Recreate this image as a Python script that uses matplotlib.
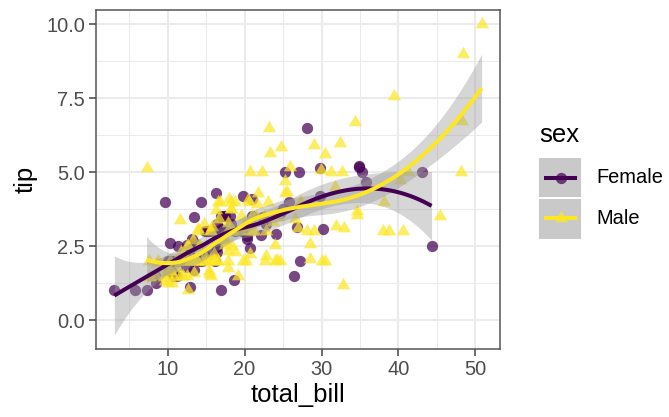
import numpy as np
import matplotlib
matplotlib.use("Agg")
import matplotlib.pyplot as plt
from matplotlib.path import Path
from matplotlib.patches import Rectangle
from matplotlib.lines import Line2D

plt.rcParams["font.family"] = ["Liberation Sans", "DejaVu Sans"]

# ---- tips data, split by sex ----
female_total_bill = [16.99, 24.59, 35.26, 14.83, 10.33, 16.97, 20.29, 15.77, 19.65, 15.06,
                     20.69, 16.93, 10.29, 34.81, 26.41, 16.45, 3.07, 17.07, 26.86, 25.28,
                     14.73, 10.07, 34.83, 5.75, 16.32, 22.75, 11.35, 15.38, 44.30, 22.42,
                     20.92, 14.31, 7.25, 25.71, 17.31, 10.65, 12.43, 24.08, 13.42, 12.48,
                     29.80, 14.52, 11.38, 20.27, 11.17, 12.26, 18.26, 8.51, 10.33, 14.15,
                     13.16, 17.47, 27.05, 16.43, 8.35, 18.64, 29.85, 25.00, 13.39, 16.21,
                     17.51, 10.59, 10.63, 9.60, 20.90, 18.15, 19.81, 43.11, 13.00, 12.74,
                     13.00, 16.40, 16.47, 12.76, 13.27, 28.17, 12.90, 30.14, 13.42, 15.98,
                     16.27, 10.09, 22.12, 35.83, 27.18, 18.78]
female_tip = [1.01, 3.61, 5.00, 3.02, 1.67, 3.50, 2.75, 2.23, 3.00, 3.00,
              2.45, 3.07, 2.60, 5.20, 1.50, 2.47, 1.00, 3.00, 3.14, 5.00,
              2.20, 1.83, 5.17, 1.00, 4.30, 3.25, 2.50, 3.00, 2.50, 3.48,
              4.08, 4.00, 1.00, 4.00, 3.50, 1.50, 1.80, 2.92, 1.68, 2.52,
              4.20, 2.00, 2.00, 2.83, 1.50, 2.00, 3.25, 1.25, 2.00, 2.00,
              2.75, 3.50, 5.00, 2.30, 1.50, 1.36, 5.14, 3.75, 2.61, 2.00,
              3.00, 1.61, 2.00, 4.00, 3.50, 3.50, 4.19, 5.00, 2.00, 2.01,
              2.00, 2.50, 3.23, 2.23, 2.50, 6.50, 1.10, 3.09, 3.48, 3.00,
              2.50, 2.00, 2.88, 4.67, 2.00, 3.00]

male_total_bill = [10.34, 21.01, 23.68, 25.29, 8.77, 26.88, 15.04, 14.78, 10.27, 15.42,
                   18.43, 21.58, 16.29, 20.65, 17.92, 39.42, 19.82, 17.81, 13.37, 12.69,
                   21.70, 9.55, 18.35, 17.78, 24.06, 16.31, 18.69, 31.27, 16.04, 17.46,
                   13.94, 9.68, 30.40, 18.29, 22.23, 32.40, 28.55, 18.04, 12.54, 9.94,
                   25.56, 19.49, 38.01, 11.24, 48.27, 20.29, 13.81, 11.02, 18.29, 17.59,
                   20.08, 20.23, 15.01, 12.02, 10.51, 17.92, 27.20, 22.76, 17.29, 19.44,
                   16.66, 32.68, 15.98, 13.03, 18.28, 24.71, 21.16, 28.97, 22.49, 40.17,
                   27.28, 12.03, 21.01, 12.46, 15.36, 20.49, 25.21, 18.24, 14.00, 38.07,
                   23.95, 29.93, 11.69, 14.26, 15.95, 8.52, 22.82, 19.08, 16.00, 34.30,
                   41.19, 9.78, 7.51, 14.07, 13.13, 17.26, 24.55, 19.77, 48.17, 16.49,
                   21.50, 12.66, 13.81, 24.52, 20.76, 31.71, 50.81, 15.81, 7.25, 31.85,
                   16.82, 32.90, 17.89, 14.48, 34.63, 34.65, 23.33, 45.35, 23.17, 40.55,
                   20.69, 30.46, 23.10, 15.69, 28.44, 15.48, 16.58, 7.56, 10.34, 13.51,
                   18.71, 20.53, 26.59, 38.73, 24.27, 30.06, 25.89, 48.33, 28.15, 11.59,
                   7.74, 12.16, 8.58, 13.42, 20.45, 13.28, 24.01, 15.69, 11.61, 10.77,
                   15.53, 10.07, 12.60, 32.83, 29.03, 22.67, 17.82]
male_tip = [1.66, 3.50, 3.31, 4.71, 2.00, 3.12, 1.96, 3.23, 1.71, 1.57,
            3.00, 3.92, 3.71, 3.35, 4.08, 7.58, 3.18, 2.34, 2.00, 2.00,
            4.30, 1.45, 2.50, 3.27, 3.60, 2.00, 2.31, 5.00, 2.24, 2.54,
            3.06, 1.32, 5.60, 3.00, 5.00, 6.00, 2.05, 3.00, 2.50, 1.56,
            4.34, 3.51, 3.00, 1.76, 6.73, 3.21, 2.00, 1.98, 3.76, 2.64,
            3.15, 2.01, 2.09, 1.97, 1.25, 3.08, 4.00, 3.00, 2.71, 3.00,
            3.40, 5.00, 2.03, 2.00, 4.00, 5.85, 3.00, 3.00, 3.50, 4.73,
            4.00, 1.50, 3.00, 1.50, 1.64, 4.06, 4.29, 3.76, 3.00, 4.00,
            2.55, 5.07, 2.31, 2.50, 2.00, 1.48, 2.18, 1.50, 2.00, 6.70,
            5.00, 1.73, 2.00, 2.50, 2.00, 2.74, 2.00, 2.00, 5.00, 2.00,
            3.50, 2.50, 2.00, 3.48, 2.24, 4.50, 10.00, 3.16, 5.15, 3.18,
            4.00, 3.11, 2.00, 2.00, 3.55, 3.68, 5.65, 3.50, 6.50, 3.00,
            5.00, 2.00, 4.00, 1.50, 2.56, 2.02, 4.00, 1.44, 2.00, 2.00,
            4.00, 4.00, 3.41, 3.00, 2.03, 2.00, 5.16, 9.00, 3.00, 1.50,
            1.44, 2.20, 1.92, 1.58, 3.00, 2.72, 2.00, 3.00, 3.39, 1.47,
            3.00, 1.25, 1.00, 1.17, 5.92, 2.00, 1.75]

groups = ["Female", "Male"]
colors = {"Female": "#440154", "Male": "#FDE725"}
x_ticks = [10, 20, 30, 40, 50]
y_ticks = [0.0, 2.5, 5.0, 7.5, 10.0]


def loess_band(x, y, x_eval, span=0.75, cell=0.2, level=0.95):
    """Local quadratic regression (tricube weights), evaluated on a k-d vertex
    grid and blended with cubic Hermite interpolation; returns fit and CI."""
    x = np.asarray(x, float)
    y = np.asarray(y, float)
    n = len(x)
    q = int(np.floor(n * span + 1e-5))

    def local_rows(x0):
        d = np.abs(x - x0)
        h = np.sort(d)[q - 1]
        u = np.clip(d / h, 0, 1)
        w = (1 - u ** 3) ** 3
        X = np.column_stack([np.ones(n), x - x0, (x - x0) ** 2])
        XtW = X.T * w
        B = np.linalg.solve(XtW @ X, XtW)
        return B[0], B[1]

    # cell vertices
    xs = np.sort(x)
    mu = 0.005 * max(xs[-1] - xs[0], 1e-10)
    lo_v, hi_v = xs[0] - mu, xs[-1] + mu
    fc = int(np.floor(n * span * cell))
    verts = {lo_v, hi_v}
    stack = [(0, n - 1, lo_v, hi_v)]
    while stack:
        l, u, a, b = stack.pop()
        if u - l + 1 <= fc:
            continue
        m = (l + u) // 2
        off = 0
        while l <= m + off < u:
            if xs[m + off] == xs[m + off + 1]:
                off = -off
                if off >= 0:
                    off += 1
            else:
                m = m + off
                break
        xi = xs[m]
        if xi == a or xi == b:
            continue
        verts.add(xi)
        stack.append((l, m, a, xi))
        stack.append((m + 1, u, xi, b))
    verts = np.array(sorted(verts))
    vrows = [local_rows(v) for v in verts]

    def interp_row(x0):
        i = int(np.clip(np.searchsorted(verts, x0) - 1, 0, len(verts) - 2))
        v0, v1 = verts[i], verts[i + 1]
        h = v1 - v0
        t = (x0 - v0) / h
        r0, s0 = vrows[i]
        r1, s1 = vrows[i + 1]
        return ((1 - t) ** 2 * (1 + 2 * t) * r0 + t ** 2 * (3 - 2 * t) * r1
                + h * (t * (1 - t) ** 2 * s0 - t ** 2 * (1 - t) * s1))

    L = np.array([interp_row(xi) for xi in x])
    M = np.eye(n) - L
    A = M.T @ M
    d1 = np.trace(A)
    d2 = np.trace(A @ A)
    sigma = np.sqrt(np.sum((M @ y) ** 2) / d1)
    Le = np.array([interp_row(x0) for x0 in x_eval])
    fit = Le @ y
    se = sigma * np.sqrt((Le ** 2).sum(axis=1))
    df = d1 ** 2 / d2
    z = 1.959964
    tq = z + (z ** 3 + z) / (4 * df) + (5 * z ** 5 + 16 * z ** 3 + 3 * z) / (96 * df ** 2)
    return fit, fit - tq * se, fit + tq * se


W, H = 669, 417
fig = plt.figure(figsize=(W / 100, H / 100), dpi=100)
fig.patch.set_facecolor("white")


def fx(px):
    return px / W


def fy(py):
    return 1 - py / H


ax = fig.add_axes([fx(96), fy(349), (500 - 96) / W, (349 - 10) / H])

# equilateral triangle marker
tri = Path([(0, 1.0), (-0.866, -0.5), (0.866, -0.5), (0, 1.0)],
           [Path.MOVETO, Path.LINETO, Path.LINETO, Path.CLOSEPOLY])

data = {
    "Female": (female_total_bill, female_tip),
    "Male": (male_total_bill, male_tip),
}
markers = {"Female": ("o", 66), "Male": (tri, 122)}

for g in groups:
    xs, ys = data[g]
    m, s = markers[g]
    ax.scatter(xs, ys, marker=m, s=s, color=colors[g], alpha=0.72,
               linewidths=0, zorder=3)

for g in groups:
    xs, ys = data[g]
    grid = np.linspace(min(xs), max(xs), 80)
    fit, lo, hi = loess_band(xs, ys, grid)
    ax.fill_between(grid, lo, hi, color="#999999", alpha=0.4, linewidth=0, zorder=4)
    ax.plot(grid, fit, color=colors[g], lw=2.9, solid_capstyle="butt", zorder=5)

all_x = female_total_bill + male_total_bill
xr = max(all_x) - min(all_x)
ax.set_xlim(min(all_x) - 0.05 * xr, max(all_x) + 0.05 * xr)
ax.set_ylim(-0.98, 10.48)

ax.set_xticks(x_ticks)
ax.set_xticks([5, 15, 25, 35, 45], minor=True)
ax.set_yticks(y_ticks)
ax.set_yticklabels([f"{v:.1f}" for v in y_ticks])
ax.set_yticks([1.25, 3.75, 6.25, 8.75], minor=True)

ax.grid(which="major", color="#EBEBEB", lw=1.5, zorder=0)
ax.grid(which="minor", color="#EBEBEB", lw=0.75, zorder=0)
ax.set_axisbelow(True)

for sp in ax.spines.values():
    sp.set_color("#555555")
    sp.set_linewidth(1.1)

ax.tick_params(which="major", length=5, width=1.1, color="#444444",
               labelsize=14.4, labelcolor="#4D4D4D", pad=3)
ax.tick_params(which="minor", length=0)

ax.set_xlabel("total_bill", fontsize=18.5, labelpad=3)
ax.set_ylabel("tip", fontsize=18.5, labelpad=6)

# ---- legend ----
fig.text(fx(539), fy(142), "sex", fontsize=18.5, ha="left", va="baseline")
key_top = 157
key_h = 41
for i, g in enumerate(groups):
    top = key_top + i * key_h
    fig.patches.append(Rectangle((fx(539), fy(top + key_h - 0.5)), 42 / W, (key_h - 1) / H,
                                 transform=fig.transFigure, facecolor="#C9C9C9",
                                 edgecolor="none"))
    cy = fy(top + key_h / 2)
    fig.lines.append(Line2D([fx(544), fx(577)], [cy, cy], transform=fig.transFigure,
                            color=colors[g], lw=2.9, solid_capstyle="butt"))
    m, s = markers[g]
    fig.lines.append(Line2D([fx(560.5)], [cy], transform=fig.transFigure,
                            marker=m, markersize=np.sqrt(s), color=colors[g], alpha=0.72,
                            markeredgewidth=0, linestyle="none"))
    fig.text(fx(596), cy, g, fontsize=14.4, ha="left", va="center")

fig.savefig("out.png", dpi=100, facecolor="white")
